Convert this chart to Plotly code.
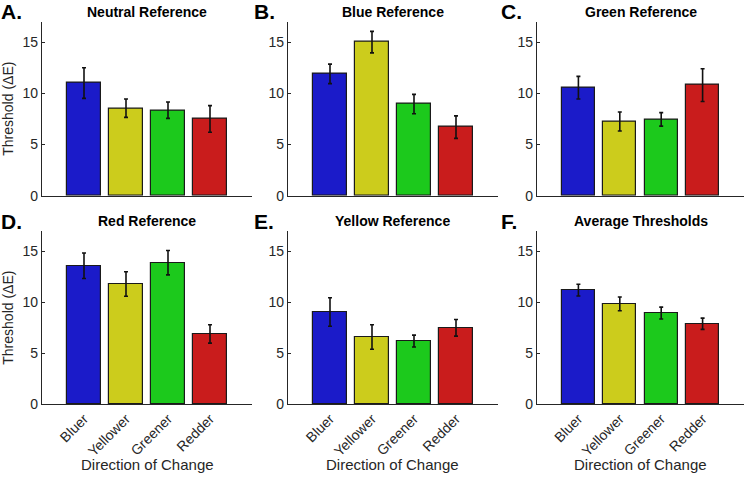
import plotly.graph_objects as go

directions = ["Bluer", "Yellower", "Greener", "Redder"]
bar_colors = ["#1b1bc9", "#cccc1c", "#1cc91c", "#c91c1c"]

titles = ["Neutral Reference", "Blue Reference", "Green Reference",
          "Red Reference", "Yellow Reference", "Average Thresholds"]
letters = ["A.", "B.", "C.", "D.", "E.", "F."]

neutral_ref = [11.0, 8.55, 8.35, 7.5]
neutral_err = [1.5, 0.9, 0.8, 1.3]
blue_ref = [11.9, 15.0, 8.95, 6.7]
blue_err = [0.95, 1.05, 0.95, 1.1]
green_ref = [10.55, 7.25, 7.45, 10.8]
green_err = [1.1, 0.93, 0.66, 1.6]
red_ref = [13.6, 11.8, 13.9, 6.9]
red_err = [1.25, 1.2, 1.2, 0.9]
yellow_ref = [9.05, 6.6, 6.2, 7.5]
yellow_err = [1.4, 1.2, 0.58, 0.82]
average = [11.2, 9.85, 8.95, 7.9]
average_err = [0.58, 0.67, 0.58, 0.55]

panels = [(neutral_ref, neutral_err), (blue_ref, blue_err), (green_ref, green_err),
          (red_ref, red_err), (yellow_ref, yellow_err), (average, average_err)]

W, H = 745, 482
# pixel boxes of the plot areas (left, right, top, bottom)
col_px = [(42, 252), (288, 498), (537, 744)]
row_px = [(22, 199), (235, 411)]
letter_px = [0, 253, 500]

fnt = "Liberation Sans, Arial, sans-serif"
ink = "#262626"

fig = go.Figure()
xpos = [1, 2, 3, 4]

for i, (vals, errs) in enumerate(panels):
    r, c = divmod(i, 3)
    n = "" if i == 0 else str(i + 1)
    fig.add_trace(go.Bar(
        x=xpos, y=vals, width=0.8,
        marker=dict(color=bar_colors, line=dict(color="#1a1a1a", width=1.2)),
        error_y=dict(type="data", array=errs, color="#111111", thickness=1.6, width=2),
        xaxis="x" + n, yaxis="y" + n, showlegend=False,
    ))
    x0, x1 = col_px[c]
    y0, y1 = row_px[r]
    bottom = r == 1
    fig.layout["xaxis" + n] = dict(
        domain=[x0 / W, x1 / W], anchor="y" + n, range=[0, 5],
        tickvals=xpos, ticktext=directions if bottom else ["", "", "", ""],
        tickangle=-45, ticks="", showline=True, linecolor=ink, linewidth=1.2,
        showgrid=False, zeroline=False,
        tickfont=dict(family=fnt, size=14, color=ink),
    )
    fig.layout["yaxis" + n] = dict(
        domain=[1 - y1 / H, 1 - y0 / H], anchor="x" + n, range=[0, 17],
        tickvals=[0, 5, 10, 15], ticks="inside", ticklen=3, tickcolor=ink,
        showline=True, linecolor=ink, linewidth=1.2, showgrid=False, zeroline=False,
        tickfont=dict(family=fnt, size=14, color=ink),
        title=dict(text="Threshold (ΔE)" if c == 0 else "",
                   font=dict(family=fnt, size=14, color=ink), standoff=5),
    )
    # panel title and letter
    fig.add_annotation(text="<b>" + titles[i] + "</b>", xref="paper", yref="paper",
                       x=(x0 + x1) / 2 / W, y=1 - (y0 - 10) / H, xanchor="center",
                       yanchor="middle", showarrow=False,
                       font=dict(family=fnt, size=14, color="black"))
    fig.add_annotation(text="<b>" + letters[i] + "</b>", xref="paper", yref="paper",
                       x=letter_px[c] / W, y=1 - (y0 - 10) / H, xanchor="left",
                       yanchor="middle", xshift=-1, showarrow=False,
                       font=dict(family=fnt, size=21, color="black"))
    if bottom:
        fig.add_annotation(text="Direction of Change", xref="paper", yref="paper",
                           x=(x0 + x1) / 2 / W, y=1 - 472 / H, xanchor="center",
                           yanchor="middle", showarrow=False,
                           font=dict(family=fnt, size=15, color=ink))

fig.update_layout(
    width=W, height=H, margin=dict(l=0, r=0, t=0, b=0),
    plot_bgcolor="white", paper_bgcolor="white", bargap=0,
)

fig.write_html("out.html", config={"displayModeBar": False},
               post_script="document.body.style.margin='0';")
